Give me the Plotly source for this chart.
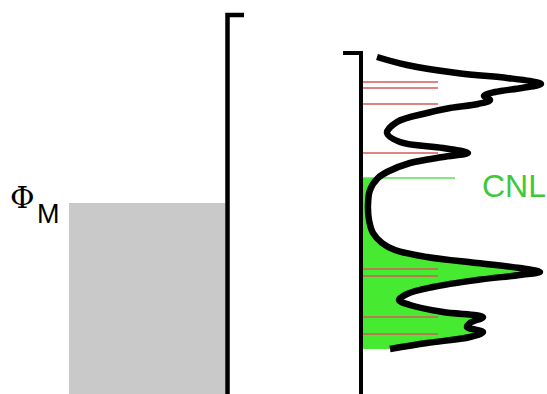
import plotly.graph_objects as go

# ---- Metal electrode (left) ----
metal_left = 69          # left edge of filled metal states
metal_edge = 227.5       # metal surface
metal_top = 379          # top of the metal surface line
metal_tick_end = 244     # end of the small top tick
phi_M = 191              # Fermi level / work function energy

# ---- Molecule (right): density of states along energy ----
mol_top = 341            # top of the molecule DOS baseline
mol_tick = -18           # small tick pointing left at the top
cnl = 216                # charge neutrality level
cnl_len = 94             # length of CNL marker line
level_len = 77           # length of molecular level markers
levels = [312, 306, 290, 241, 125, 118, 77, 60]

# DOS curve: density (from molecule baseline) vs energy
dos_energy = [337, 329, 321, 316, 313, 310, 306, 302, 298, 294, 290, 286, 281,
              272, 261, 252, 246, 241, 237, 231, 222, 216, 204, 189, 174, 161,
              151, 144, 137, 131, 126, 122, 119, 114, 107, 100, 94, 89, 82, 77,
              71, 67, 62, 57, 51, 45]
dos_value = [16, 46, 96, 146, 169, 180, 161, 134, 123, 129, 117, 89, 66,
             36, 26, 39, 82, 107, 82, 49, 26, 17, 9, 7, 8, 12,
             21, 34, 66, 116, 159, 179, 159, 116, 72, 46, 38, 49, 82, 122,
             109, 106, 122, 109, 66, 29]

W, H = 547, 394
fig = go.Figure()

# filled metal states up to Phi_M
fig.add_trace(go.Scatter(
    x=[metal_left, metal_edge - 2, metal_edge - 2, metal_left, metal_left],
    y=[0, 0, phi_M, phi_M, 0],
    fill="toself", fillcolor="#c9c9c9", line=dict(width=0),
    mode="lines", hoverinfo="skip", xaxis="x", yaxis="y"))

# occupied molecular states below the CNL
occ_E = [e for e in dos_energy if e <= cnl]
occ_D = [d for e, d in zip(dos_energy, dos_value) if e <= cnl]
fig.add_trace(go.Scatter(
    x=occ_D, y=occ_E, fill="tozerox", fillcolor="#46ea30",
    line=dict(width=0, shape="spline"), mode="lines",
    hoverinfo="skip", xaxis="x2", yaxis="y"))

# molecular levels
for lv in levels:
    fig.add_trace(go.Scatter(
        x=[0, level_len], y=[lv, lv], mode="lines",
        line=dict(color="#d9585a", width=1.6),
        hoverinfo="skip", xaxis="x2", yaxis="y"))

# CNL marker
fig.add_trace(go.Scatter(
    x=[0, cnl_len], y=[cnl, cnl], mode="lines",
    line=dict(color="#5ee05a", width=1.6),
    hoverinfo="skip", xaxis="x2", yaxis="y"))

# molecule baseline
fig.add_trace(go.Scatter(
    x=[mol_tick, 0, 0], y=[mol_top, mol_top, 0], mode="lines",
    line=dict(color="black", width=4),
    hoverinfo="skip", xaxis="x2", yaxis="y"))

# DOS curve
fig.add_trace(go.Scatter(
    x=dos_value, y=dos_energy, mode="lines",
    line=dict(color="black", width=6.5, shape="spline", smoothing=1),
    hoverinfo="skip", xaxis="x2", yaxis="y"))

# metal surface
fig.add_trace(go.Scatter(
    x=[metal_tick_end, metal_edge, metal_edge], y=[metal_top, metal_top, 0],
    mode="lines", line=dict(color="black", width=4.5),
    hoverinfo="skip", xaxis="x", yaxis="y"))

annotations = [
    dict(x=22, y=197, xref="x", yref="y", text="Φ", showarrow=False,
         font=dict(family="DejaVu Serif", size=30, color="black")),
    dict(x=48, y=180, xref="x", yref="y", text="M", showarrow=False,
         font=dict(family="Liberation Sans", size=27, color="black")),
    dict(x=480, y=208, xref="x", yref="y", text="CNL", showarrow=False,
         xanchor="left",
         font=dict(family="Liberation Sans", size=32, color="#3ec83a")),
]

fig.update_layout(
    width=W, height=H, margin=dict(l=0, r=0, t=0, b=0),
    paper_bgcolor="white", plot_bgcolor="white", showlegend=False,
    annotations=annotations,
    xaxis=dict(range=[0, W], visible=False, fixedrange=True),
    xaxis2=dict(range=[-361, W - 361], visible=False, overlaying="x",
                fixedrange=True),
    yaxis=dict(range=[0, H], visible=False, fixedrange=True),
)

fig.write_html("out.html")
